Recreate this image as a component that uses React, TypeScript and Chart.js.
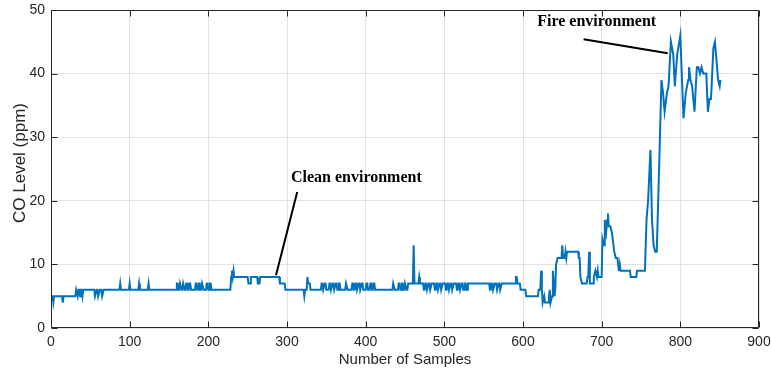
import React, { useEffect, useRef } from "react";
import { Chart, registerables } from "chart.js";

Chart.register(...registerables);

// ---- tick labels ----
const xTickValues = [0, 100, 200, 300, 400, 500, 600, 700, 800, 900];
const yTickValues = [0, 10, 20, 30, 40, 50];

// ---- series: vertices of the CO trace, [sample index, ppm] ----
const cleanStart: [number, number][] = [
  [0, 5], [2, 5], [3, 4], [4, 5], [14, 5], [15, 4], [16, 5], [31, 5],
  [32, 6], [33, 6], [34, 5], [35, 6], [36, 6], [37, 5], [38, 6], [39, 6], [40, 5], [41, 6],
  [55, 6], [56, 5], [57, 5], [58, 6], [59, 6], [60, 5], [61, 5], [62, 6], [64, 6], [65, 5], [66, 5], [67, 6],
  [87, 6], [88, 7], [89, 6], [99, 6], [100, 7], [101, 6], [111, 6], [112, 7], [113, 6], [123, 6], [124, 7], [125, 6],
];

const cleanMid: [number, number][] = [
  [159, 6], [160, 7], [161, 7], [162, 6], [163, 6], [164, 7], [165, 7], [166, 6], [167, 6], [168, 7],
  [169, 7], [170, 6], [171, 6], [172, 7], [173, 7], [174, 6], [175, 6], [176, 7], [177, 7], [178, 6],
  [183, 6], [184, 7], [185, 7], [186, 6], [187, 6], [188, 7], [189, 7], [190, 6], [191, 6], [192, 7],
  [193, 7], [194, 6], [197, 6], [198, 7], [199, 7], [200, 6], [201, 6], [202, 7], [203, 7], [204, 6],
  [228, 6], [229, 8], [230, 9], [231, 8], [232, 9], [233, 8], [250, 8], [251, 7], [253, 7], [254, 8],
  [262, 8], [263, 7], [265, 7], [266, 8], [290, 8], [291, 7], [297, 7], [298, 6],
];

const cleanLate: [number, number][] = [
  [321, 6], [322, 5], [323, 6], [325, 6], [326, 8], [327, 7], [329, 7], [330, 6],
  [343, 6], [344, 7], [345, 7], [346, 6], [347, 6], [348, 7], [349, 7], [350, 6],
  [353, 6], [354, 7], [355, 7], [356, 6], [357, 6], [358, 7], [359, 7], [360, 6], [361, 6], [362, 7],
  [363, 7], [364, 6], [365, 6], [366, 7], [367, 7], [368, 6],
  [374, 6], [375, 7], [376, 7], [377, 6],
  [382, 6], [383, 7], [384, 7], [385, 6], [386, 6], [387, 7], [388, 7], [389, 6], [390, 6], [391, 7],
  [392, 7], [393, 6], [394, 6], [395, 7], [396, 7], [397, 6],
  [400, 6], [401, 7], [402, 7], [403, 6],
  [405, 6], [406, 7], [407, 7], [408, 6], [409, 6], [410, 7], [411, 7], [412, 6],
  [434, 6], [435, 7], [436, 7], [437, 6],
  [441, 6], [442, 7], [443, 7], [444, 6], [445, 6], [446, 7], [447, 7], [448, 6], [449, 6], [450, 7],
  [451, 7], [452, 6], [453, 6], [454, 7],
  [460, 7], [461, 13], [462, 7], [467, 7], [468, 8], [469, 7],
  [473, 7], [474, 6], [475, 6], [476, 7], [477, 7], [478, 6], [479, 6], [480, 7], [481, 7], [482, 6],
  [483, 6], [484, 7], [487, 7], [488, 6], [489, 6], [490, 7], [491, 7], [492, 6], [493, 6], [494, 7],
  [495, 7], [496, 6], [497, 6], [498, 7], [501, 7], [502, 6], [503, 6], [504, 7], [505, 7], [506, 6],
  [507, 6], [508, 7], [509, 7], [510, 6], [511, 6], [512, 7], [515, 7], [516, 6], [517, 6], [518, 7],
  [519, 7], [520, 6], [521, 6], [522, 7], [523, 7], [524, 6], [525, 6], [526, 7], [527, 7], [528, 6],
  [529, 6], [530, 7],
  [557, 7], [558, 6], [559, 6], [560, 7], [561, 7], [562, 6], [563, 6], [564, 7], [566, 7], [567, 6],
  [568, 6], [569, 7], [570, 7], [571, 6], [572, 6], [573, 7],
  [590, 7], [591, 8], [592, 8], [593, 7], [596, 7], [597, 6], [603, 6], [604, 5], [619, 5],
];

const transition: [number, number][] = [
  [620, 6], [622, 6], [623, 9], [624, 6], [625, 4], [627, 5], [628, 4], [632, 4], [633, 5], [634, 6],
  [635, 4], [637, 5], [638, 9], [640, 5], [641, 6], [642, 10], [644, 11], [649, 11], [650, 13], [651, 11],
  [653, 11], [654, 12], [655, 11], [656, 12], [670, 12], [671, 11], [672, 11], [673, 8], [675, 7], [681, 7],
  [682, 8], [683, 8], [684, 12], [685, 7], [689, 7], [690, 8], [692, 9], [694, 8], [695, 9], [696, 8],
  [700, 8], [701, 14], [703, 13], [704, 17], [705, 14], [707, 17], [708, 18], [709, 16], [711, 16], [713, 15],
  [716, 12], [718, 11], [720, 11], [721, 10], [722, 9], [723, 10], [724, 9], [736, 9], [737, 8], [744, 8],
  [745, 9], [755, 9],
];

const firePhase: [number, number][] = [
  [757, 17], [759, 20], [762, 28], [764, 17], [766, 13], [768, 12], [770, 12], [773, 25], [776, 39], [778, 37],
  [780, 34], [783, 37], [785, 38], [788, 45], [791, 43], [793, 38], [796, 43], [800, 46], [804, 33], [807, 37],
  [810, 39], [811, 41], [813, 39], [815, 38], [818, 34], [821, 41], [823, 41], [825, 40], [827, 41], [829, 40],
  [833, 40], [835, 34], [837, 36], [839, 36], [842, 44], [844, 45], [846, 42], [848, 39], [850, 38], [851, 39],
];

// ---- annotations (data coordinates) ----
const annotationTexts = ["Clean environment", "Fire environment"];
const annotationTextPos = [[305, 23.6], [618, 48.1]];
const annotationLineFrom = [[313, 21.4], [677, 45.4]];
const annotationLineTo = [[286, 8.3], [784, 43.2]];

const xAxisTitle = "Number of Samples";
const yAxisTitle = "CO Level (ppm)";

const AXIS_COLOR = "#262626";
const SANS = "'Liberation Sans', Arial, sans-serif";

const framePlugin = {
  id: "matlabFrame",
  afterDatasetsDraw(chart: any) {
    const { ctx, chartArea: a, scales } = chart;
    const xs = scales.x;
    const ys = scales.y;
    ctx.save();
    ctx.strokeStyle = AXIS_COLOR;
    ctx.lineWidth = 1;
    const L = Math.round(a.left) + 0.5;
    const R = Math.round(a.right) - 0.5;
    const T = Math.round(a.top) + 0.5;
    const B = Math.round(a.bottom) - 0.5;
    ctx.beginPath();
    ctx.rect(L, T, R - L, B - T);
    const tl = 6;
    xTickValues.forEach((v) => {
      const x = Math.round(xs.getPixelForValue(v)) + 0.5;
      ctx.moveTo(x, B);
      ctx.lineTo(x, B - tl);
      ctx.moveTo(x, T);
      ctx.lineTo(x, T + tl);
    });
    yTickValues.forEach((v) => {
      const y = Math.round(ys.getPixelForValue(v)) + 0.5;
      ctx.moveTo(L, y);
      ctx.lineTo(L + tl, y);
      ctx.moveTo(R, y);
      ctx.lineTo(R - tl, y);
    });
    ctx.stroke();

    // y-axis title
    ctx.save();
    ctx.fillStyle = AXIS_COLOR;
    ctx.font = `17px ${SANS}`;
    ctx.textAlign = "center";
    ctx.textBaseline = "middle";
    ctx.translate(20, (a.top + a.bottom) / 2 - 6);
    ctx.rotate(-Math.PI / 2);
    ctx.fillText(yAxisTitle, 0, 0);
    ctx.restore();

    // annotations
    ctx.strokeStyle = "#000000";
    ctx.lineWidth = 2;
    annotationLineFrom.forEach((p, i) => {
      const q = annotationLineTo[i];
      ctx.beginPath();
      ctx.moveTo(xs.getPixelForValue(p[0]), ys.getPixelForValue(p[1]));
      ctx.lineTo(xs.getPixelForValue(q[0]), ys.getPixelForValue(q[1]));
      ctx.stroke();
    });
    ctx.fillStyle = "#000000";
    ctx.font = "bold 16px 'Liberation Serif', 'Times New Roman', serif";
    ctx.textAlign = "left";
    ctx.textBaseline = "middle";
    annotationTexts.forEach((t, i) => {
      const p = annotationTextPos[i];
      ctx.fillText(t, xs.getPixelForValue(p[0]), ys.getPixelForValue(p[1]));
    });
    ctx.restore();
  },
};

export default function App() {
  const canvasRef = useRef<HTMLCanvasElement | null>(null);

  useEffect(() => {
    document.body.style.margin = "0";
    const canvas = canvasRef.current;
    if (!canvas) return;
    const vertices = [...cleanStart, ...cleanMid, ...cleanLate, ...transition, ...firePhase];
    const points = vertices.map(([x, y]) => ({ x, y }));
    const tickFont = { family: SANS, size: 14 };
    const chart = new Chart(canvas, {
      type: "line",
      data: {
        datasets: [
          {
            data: points,
            borderColor: "#0072BD",
            borderWidth: 2,
            pointRadius: 0,
            tension: 0,
            fill: false,
          },
        ],
      },
      options: {
        animation: false,
        responsive: false,
        maintainAspectRatio: false,
        parsing: false as any,
        layout: { padding: { top: 10, right: 12, left: 0, bottom: 0 } },
        plugins: {
          legend: { display: false },
          tooltip: { enabled: false },
        },
        scales: {
          x: {
            type: "linear",
            min: 0,
            max: 900,
            afterBuildTicks: (s: any) => {
              s.ticks = xTickValues.map((v) => ({ value: v }));
            },
            afterFit: (s: any) => {
              s.height = 45;
              s.paddingLeft = 0;
              s.paddingRight = 0;
            },
            ticks: {
              color: AXIS_COLOR,
              font: tickFont,
              padding: 6,
              maxRotation: 0,
              autoSkip: false,
            },
            grid: { color: "#e2e2e2", lineWidth: 1, drawTicks: false },
            border: { display: false },
            title: {
              display: true,
              text: xAxisTitle,
              color: AXIS_COLOR,
              font: { family: SANS, size: 15 },
              padding: { top: 0, bottom: 4 },
            },
          },
          y: {
            type: "linear",
            min: 0,
            max: 50,
            afterBuildTicks: (s: any) => {
              s.ticks = yTickValues.map((v) => ({ value: v }));
            },
            afterFit: (s: any) => {
              s.width = 51;
              s.paddingTop = 0;
              s.paddingBottom = 0;
            },
            ticks: {
              color: AXIS_COLOR,
              font: tickFont,
              padding: 6,
              autoSkip: false,
            },
            grid: { color: "#e2e2e2", lineWidth: 1, drawTicks: false },
            border: { display: false },
            title: { display: false },
          },
        },
      },
      plugins: [framePlugin],
    });
    return () => chart.destroy();
  }, []);

  return (
    <div style={{ position: "absolute", left: 0, top: 0, width: 771, height: 373 }}>
      <canvas ref={canvasRef} width={771} height={373} />
    </div>
  );
}
